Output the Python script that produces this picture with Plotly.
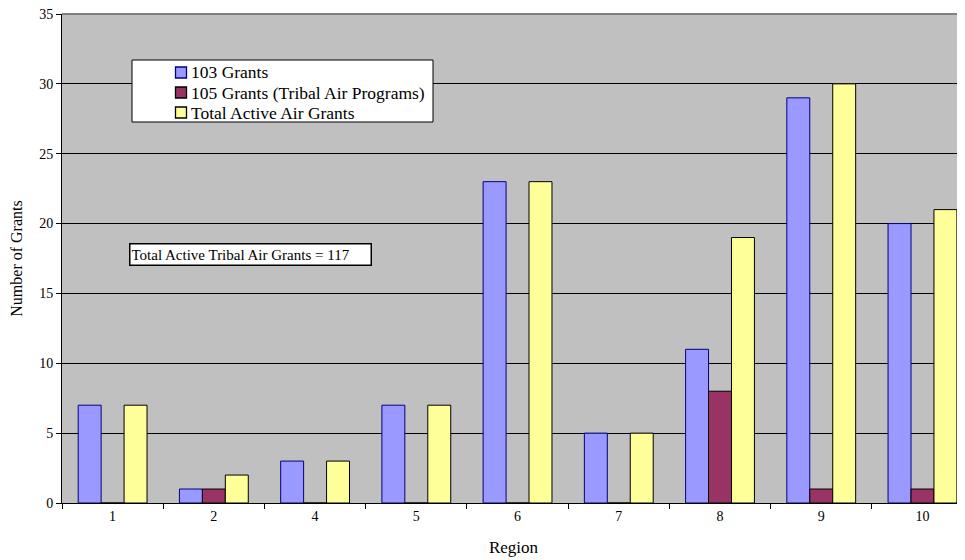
import plotly.graph_objects as go

regions = ["1", "2", "4", "5", "6", "7", "8", "9", "10"]
grants_103 = [7, 1, 3, 7, 23, 5, 11, 29, 20]
grants_105 = [0, 1, 0, 0, 0, 0, 8, 1, 1]
total_active = [7, 2, 3, 7, 23, 5, 19, 30, 21]
y_ticks = [0, 5, 10, 15, 20, 25, 30, 35]

series_names = ["103 Grants", "105 Grants (Tribal Air Programs)", "Total Active Air Grants"]
series_values = [grants_103, grants_105, total_active]
fill_colors = ["#9999FF", "#993366", "#FFFF99"]
edge_colors = ["#000080", "#000000", "#000000"]

FONT = "Liberation Serif, Times New Roman, serif"

# The page body has an 8px margin, so the figure is drawn 8px right/down.
OFF = 8
W, H = 965, 560
# plot-area geometry in screen pixels
L, T, B, R = 62, 14, 503, 965
PW, PH = R - L, B - T


def px(x):
    return (x - L) / PW


def py(y):
    return (B - y) / PH


fig = go.Figure()
for name, vals, fc, ec in zip(series_names, series_values, fill_colors, edge_colors):
    fig.add_trace(go.Bar(x=regions, y=vals, name=name,
                         marker=dict(color=fc, line=dict(color=ec, width=1))))

shapes = [
    dict(type="line", xref="paper", yref="paper", x0=0, x1=1, y0=1, y1=1,
         line=dict(color="#808080", width=2), layer="above"),
    dict(type="rect", xref="paper", yref="paper",
         x0=px(132), x1=px(433), y0=py(122), y1=py(60),
         fillcolor="white", line=dict(color="black", width=1), layer="above"),
]
annotations = []
row_centers = [72.5, 92.5, 112.5]
for name, fc, ec, yc in zip(series_names, fill_colors, edge_colors, row_centers):
    shapes.append(dict(type="rect", xref="paper", yref="paper",
                       x0=px(175.5), x1=px(186.5), y0=py(yc + 5.5), y1=py(yc - 5.5),
                       fillcolor=fc, line=dict(color=ec, width=1.3), layer="above"))
    annotations.append(dict(text=name, xref="paper", yref="paper",
                            x=px(189), y=py(yc), xanchor="left", yanchor="middle",
                            showarrow=False,
                            font=dict(family=FONT, size=17.5, color="black")))

annotations.append(dict(text="Total Active Tribal Air Grants = 117", xref="paper", yref="paper",
                        x=px(129), y=py(254), xanchor="left", yanchor="middle",
                        showarrow=False, bgcolor="white", bordercolor="black", borderwidth=1.5,
                        borderpad=1, width=238, height=18, align="left",
                        font=dict(family=FONT, size=15, color="black")))

fig.update_layout(
    width=W, height=H,
    margin=dict(l=L - OFF, r=W - (R - OFF), t=T - OFF, b=H - (B - OFF), autoexpand=False),
    paper_bgcolor="white",
    plot_bgcolor="#C0C0C0",
    barmode="group",
    bargap=0.32,
    bargroupgap=0,
    font=dict(family=FONT, size=14, color="black"),
    showlegend=False,
    xaxis=dict(type="category", range=[-0.5, 8.42], automargin=False,
               showline=True, linecolor="black", linewidth=1,
               ticks="outside", tickson="boundaries", ticklen=5, tickcolor="black",
               showgrid=False, zeroline=False,
               tickfont=dict(family=FONT, size=14),
               title=dict(text="Region", font=dict(family=FONT, size=17), standoff=18)),
    yaxis=dict(range=[0, 35], tickvals=y_ticks, automargin=False,
               ticklabeloverflow="allow",
               showline=True, linecolor="black", linewidth=1,
               ticks="outside", ticklen=5, tickcolor="black",
               showgrid=True, gridcolor="black", gridwidth=1,
               zeroline=False,
               tickfont=dict(family=FONT, size=14),
               title=dict(text="Number of Grants", font=dict(family=FONT, size=16), standoff=13)),
    shapes=shapes,
    annotations=annotations,
)

fig.write_html("out.html")
